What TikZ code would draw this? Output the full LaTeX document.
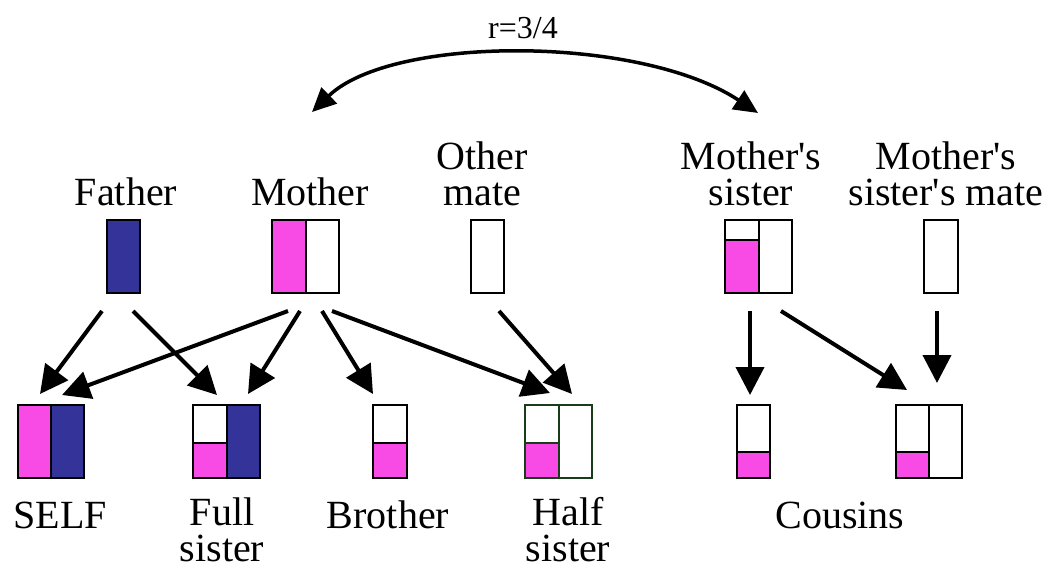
\documentclass[tikz,border=0pt]{standalone}
\usepackage{fontspec}
\setmainfont{Liberation Serif}
\usetikzlibrary{arrows.meta,calc}
\definecolor{pinkc}{RGB}{248,75,230}
\definecolor{bluec}{RGB}{51,51,153}
\definecolor{halfg}{RGB}{25,60,25}
\begin{document}
\begin{tikzpicture}[x=1pt,y=-1pt,
  box/.style={inner sep=0pt,outer sep=0pt,minimum height=73pt},
  rim/.style={line width=2pt},
  lbl/.style={font=\fontsize{40}{36}\selectfont, inner sep=0pt, align=center, anchor=base},
  arr/.style={line width=4pt, -{Triangle[length=28pt,width=28pt]}},
  rel/.style={line width=3.5pt, {Triangle[length=24pt,width=22pt]}-{Triangle[length=24pt,width=22pt]}}]
\useasboundingbox (0,0) rectangle (1049,565);

% ---------- top row boxes ----------
\node[box, minimum width=33pt, fill=bluec, draw, rim] (father) at (123.5,256.5) {};

\node[box, minimum width=67pt] (mother) at (305.5,256.5) {};
\fill[pinkc] (mother.north west) rectangle (mother.south);
\draw[rim] (mother.north west) rectangle (mother.south east) (mother.north) -- (mother.south);

\node[box, minimum width=33pt, draw, rim] (other) at (487.5,256.5) {};

\node[box, minimum width=67pt] (msis) at (758.5,256.5) {};
\fill[pinkc] ($(msis.north west)+(0,20)$) rectangle (msis.south);
\draw[rim] (msis.north west) rectangle (msis.south east) (msis.north) -- (msis.south)
  ($(msis.north west)+(0,20)$) -- ($(msis.north)+(0,20)$);

\node[box, minimum width=34pt, draw, rim] (msmate) at (941,256.5) {};

% ---------- bottom row boxes ----------
\node[box, minimum width=66pt] (self) at (51,441.5) {};
\fill[pinkc] (self.north west) rectangle (self.south);
\fill[bluec] (self.north) rectangle (self.south east);
\draw[rim] (self.north west) rectangle (self.south east) (self.north) -- (self.south);

\node[box, minimum width=67pt] (full) at (226.5,441.5) {};
\fill[pinkc] ($(full.south west)+(0,-35)$) rectangle (full.south);
\fill[bluec] (full.north) rectangle (full.south east);
\draw[rim] (full.north west) rectangle (full.south east) (full.north) -- (full.south)
  ($(full.south west)+(0,-35)$) -- ($(full.south)+(0,-35)$);

\node[box, minimum width=34pt] (bro) at (390,441.5) {};
\fill[pinkc] ($(bro.south west)+(0,-35)$) rectangle (bro.south east);
\draw[rim] (bro.north west) rectangle (bro.south east)
  ($(bro.south west)+(0,-35)$) -- ($(bro.south east)+(0,-35)$);

\node[box, minimum width=67pt] (half) at (558.5,441.5) {};
\fill[pinkc] ($(half.south west)+(0,-35)$) rectangle (half.south);
\draw[rim, halfg] (half.north west) rectangle (half.south east) (half.north) -- (half.south)
  ($(half.south west)+(0,-35)$) -- ($(half.south)+(0,-35)$);

\node[box, minimum width=33pt] (cous1) at (753.5,441.5) {};
\fill[pinkc] ($(cous1.south west)+(0,-26)$) rectangle (cous1.south east);
\draw[rim] (cous1.north west) rectangle (cous1.south east)
  ($(cous1.south west)+(0,-26)$) -- ($(cous1.south east)+(0,-26)$);

\node[box, minimum width=66pt] (cous2) at (929,441.5) {};
\fill[pinkc] ($(cous2.south west)+(0,-26)$) rectangle (cous2.south);
\draw[rim] (cous2.north west) rectangle (cous2.south east) (cous2.north) -- (cous2.south)
  ($(cous2.south west)+(0,-26)$) -- ($(cous2.south)+(0,-26)$);

% ---------- labels (base = baseline of last line) ----------
\node[lbl] (lfather) at (126,205) {Father};
\node[lbl] (lmother) at (310,205) {Mother};
\node[lbl] (lother) at (482,205) {Other\\mate};
\node[lbl] (lmsis) at (751,205) {Mother\textquotesingle s\\sister};
\node[lbl] (lmsmate) at (946,205) {Mother\textquotesingle s\\sister\textquotesingle s mate};
\node[lbl] (lself) at (60,528) {SELF};
\node[lbl] (lfull) at (222,561) {Full\\sister};
\node[lbl] (lbro) at (388,528) {Brother};
\node[lbl] (lhalf) at (568,561) {Half\\sister};
\node[lbl] (lcous) at (840,528) {Cousins};
\node[font=\fontsize{32}{34}\selectfont, inner sep=0pt, anchor=base] (lr) at (523,38) {r=3/4};

% ---------- descent arrows ----------
\draw[arr] ($(father.south)+(-21.5,18)$) -- ($(self.north)+(-11,-11)$);
\draw[arr] ($(father.south)+(9.5,18)$) -- ($(full.north)+(-9.5,-10)$);
\draw[arr] ($(mother.south)+(-17.5,18)$) -- ($(self.north)+(11,-10)$);
\draw[arr] ($(mother.south)+(-5.5,18)$) -- ($(full.north)+(21.5,-11)$);
\draw[arr] ($(mother.south)+(16.5,18)$) -- ($(bro.north)+(-17,-11)$);
\draw[arr] ($(mother.south)+(26.5,18)$) -- ($(half.north)+(-8.5,-12)$);
\draw[arr] ($(other.south)+(11.5,18)$) -- ($(half.north)+(13.5,-11)$);
\draw[arr] ($(msis.south)+(-8.5,18)$) -- ($(cous1.north)+(-3.5,-10)$);
\draw[arr] ($(msis.south)+(22.5,18)$) -- ($(cous2.north)+(-22,-15)$);
\draw[arr] ($(msmate.south)+(-4,18)$) -- ($(cous2.north)+(8,-22)$);

% ---------- relatedness arc ----------
\coordinate (rl) at ($(mother.north)+(6.5,-108)$);
\coordinate (rr) at ($(msis.north)+(-0.5,-107)$);
\draw[rel] (rl) .. controls (392,35) and (640,35) .. (rr);
\end{tikzpicture}
\end{document}
